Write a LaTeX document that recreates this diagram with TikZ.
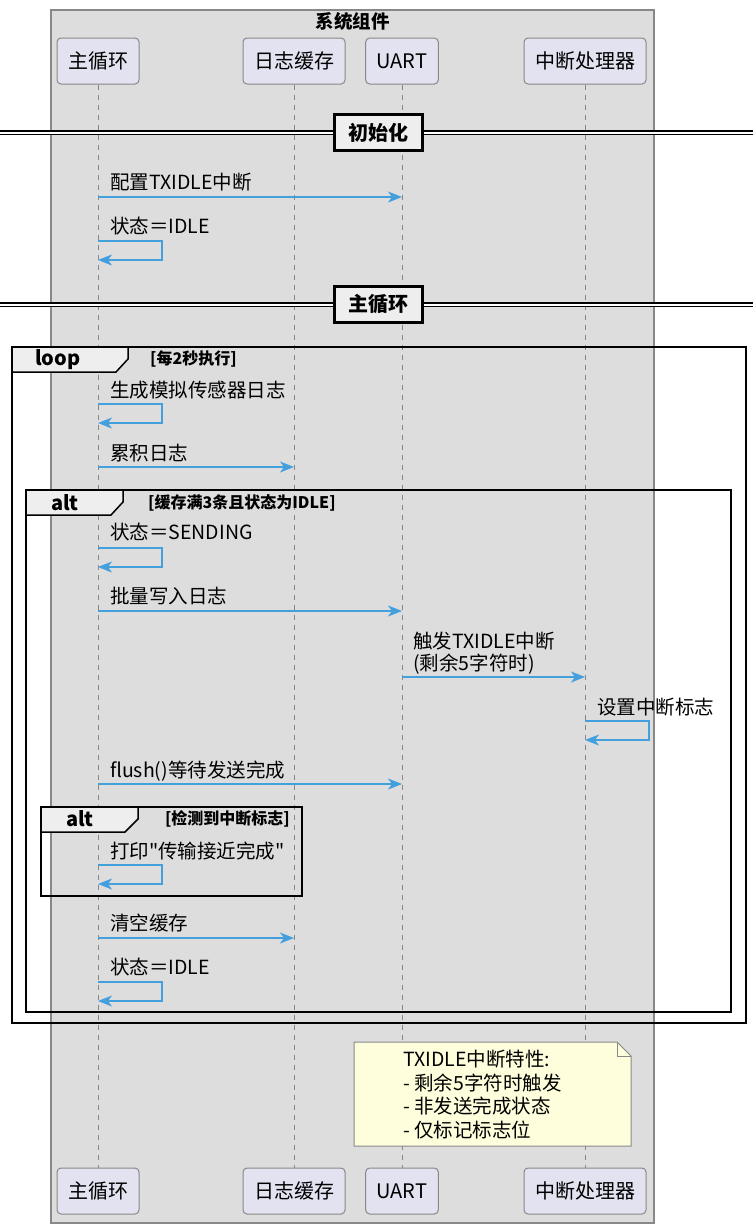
\documentclass[tikz,border=0pt]{standalone}
\usepackage{fontspec}
\setmainfont{Noto Sans CJK SC}[Ligatures=TeXOff]
\usetikzlibrary{arrows.meta}
\definecolor{grpfill}{HTML}{DDDDDD}
\definecolor{partfill}{HTML}{E2E2F0}
\definecolor{tabfill}{HTML}{EEEEEE}
\definecolor{msgblue}{HTML}{449FDD}
\definecolor{notefill}{HTML}{FEFEDD}
\definecolor{lineg}{HTML}{888888}

\begin{document}
\begin{tikzpicture}[x=1pt, y=-1pt,
	part/.style={draw=lineg, fill=partfill, rounded corners=4pt, line width=1pt, minimum height=46pt, inner xsep=11pt, font=\fontsize{20}{23}\selectfont},
	life/.style={draw=lineg, line width=1pt, dash pattern=on 5pt off 5pt},
	msg/.style={draw=msgblue, line width=1.4pt, -{Stealth[length=14pt,width=11pt,inset=4pt]}},
	lbl/.style={anchor=base west, inner sep=0pt, font=\fontsize{19.5}{22}\selectfont},
	framebox/.style={draw=black, line width=2pt},
	tabbox/.style={draw=black, line width=1.5pt, fill=tabfill},
	tabtxt/.style={inner sep=0pt, font=\bfseries\fontsize{20}{23}\selectfont},
	cond/.style={inner sep=0pt, font=\bfseries\fontsize{16}{18}\selectfont},
	sepbox/.style={draw=black, line width=2.5pt, fill=tabfill, minimum width=88pt, minimum height=36pt, font=\bfseries\fontsize{20}{23}\selectfont},
	sepline/.style={draw=black, double=white, double distance=2pt, line width=1.2pt}]

	\path[use as bounding box, fill=white] (0,0) rectangle (753,1227);

	\draw[draw=lineg, line width=1.5pt, fill=grpfill] (51,10) rectangle (654,1223);
	\node[font=\bfseries\fontsize{18.5}{21}\selectfont] (grp) at (352.5,21) {系统组件};

	\node[part] (mainT) at (98,61) {主循环};
	\node[part] (bufT) at (294,61) {日志缓存};
	\node[part] (uartT) at (402,61) {UART};
	\node[part] (isrT) at (585,61) {中断处理器};
	\node[part] (mainB) at (98,1191) {主循环};
	\node[part] (bufB) at (294,1191) {日志缓存};
	\node[part] (uartB) at (402,1191) {UART};
	\node[part] (isrB) at (585,1191) {中断处理器};

	\draw[life] (mainT) -- (mainB);
	\draw[life] (bufT) -- (bufB);
	\draw[life] (uartT) -- (uartB);
	\draw[life] (isrT) -- (isrB);

	\draw[sepline] (0,132.5) -- (753,132.5);
	\node[sepbox] (init) at (378.5,132.5) {初始化};

	\node[lbl] (m1) at (110,189) {配置TXIDLE中断};
	\draw[msg] (mainT |- 0,197) -- (uartT |- 0,197);
	\node[lbl] (m2) at (110,233) {状态＝IDLE};
	\draw[msg] (mainT |- 0,241) -- ++(64,0) -- ++(0,19) -- (mainT |- 0,260);

	\draw[sepline] (0,304.5) -- (753,304.5);
	\node[sepbox] (mainsec) at (378.5,304.5) {主循环};

	\draw[framebox] (12,347) rectangle (746,1023);
	\draw[tabbox] (12,347) -- (128,347) -- (128,359) -- (116,372) -- (12,372) -- cycle;
	\node[tabtxt] (looptag) at (58,360) {loop};
	\node[cond, anchor=west] (loopcond) at (150,359) {[每2秒执行]};

	\node[lbl] (m3) at (110,397) {生成模拟传感器日志};
	\draw[msg] (mainT |- 0,404) -- ++(64,0) -- ++(0,19) -- (mainT |- 0,423);
	\node[lbl] (m4) at (110,460) {累积日志};
	\draw[msg] (mainT |- 0,467) -- (bufT |- 0,467);

	\draw[framebox] (26,490) rectangle (731,1012);
	\draw[tabbox] (26,490) -- (123,490) -- (123,502) -- (111,515) -- (26,515) -- cycle;
	\node[tabtxt] (alttag) at (65,503) {alt};
	\node[cond, anchor=west] (altcond) at (148,503) {[缓存满3条且状态为IDLE]};

	\node[lbl] (m5) at (110,539) {状态＝SENDING};
	\draw[msg] (mainT |- 0,548) -- ++(64,0) -- ++(0,19) -- (mainT |- 0,567);
	\node[lbl] (m6) at (110,603) {批量写入日志};
	\draw[msg] (mainT |- 0,611) -- (uartT |- 0,611);
	\node[lbl] (m7) at (413,648) {触发TXIDLE中断};
	\node[lbl] (m7b) at (413,670) {(剩余5字符时)};
	\draw[msg] (uartT |- 0,677) -- (isrT |- 0,677);
	\node[lbl] (m8) at (597,714) {设置中断标志};
	\draw[msg] (isrT |- 0,721) -- ++(64,0) -- ++(0,19) -- (isrT |- 0,740);
	\node[lbl] (m9) at (110,777) {flush()等待发送完成};
	\draw[msg] (mainT |- 0,784) -- (uartT |- 0,784);

	\draw[framebox] (41,807) rectangle (302,896);
	\draw[tabbox] (41,807) -- (138,807) -- (138,819) -- (125,832) -- (41,832) -- cycle;
	\node[tabtxt] (alttag2) at (80,819) {alt};
	\node[cond, anchor=east] (altcond2) at (290,819) {[检测到中断标志]};

	\node[lbl] (m10) at (110,858) {打印"传输接近完成"};
	\draw[msg] (mainT |- 0,865) -- ++(64,0) -- ++(0,19) -- (mainT |- 0,884);
	\node[lbl] (m11) at (110,930) {清空缓存};
	\draw[msg] (mainT |- 0,938) -- (bufT |- 0,938);
	\node[lbl] (m12) at (110,974) {状态＝IDLE};
	\draw[msg] (mainT |- 0,982) -- ++(64,0) -- ++(0,19) -- (mainT |- 0,1001);

	\draw[draw=lineg, fill=notefill, line width=1pt] (354,1042) -- (617,1042) -- (631,1056) -- (631,1146) -- (354,1146) -- cycle;
	\draw[draw=lineg, line width=1pt] (617,1042) -- (617,1056) -- (631,1056);
	\node[anchor=north west, align=left, inner sep=0pt, font=\fontsize{19.5}{23.5}\selectfont] (note) at (403,1050) {TXIDLE中断特性:\\- 剩余5字符时触发\\- 非发送完成状态\\- 仅标记标志位};
\end{tikzpicture}
\end{document}
